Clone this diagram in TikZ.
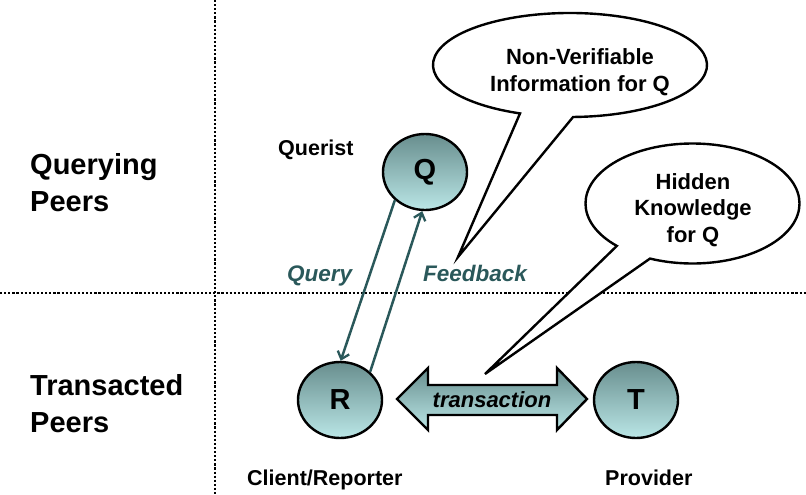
\documentclass[tikz,border=0pt]{standalone}
\usepackage{fontspec}
\setmainfont{Liberation Sans}
\usetikzlibrary{shapes.geometric,arrows.meta,calc}
\definecolor{tealdark}{RGB}{42,88,90}
\definecolor{shadetop}{RGB}{104,142,142}
\definecolor{shadebot}{RGB}{186,230,230}

\begin{document}
\begin{tikzpicture}[x=1pt,y=-1pt,
  peer/.style={ellipse, draw=black, line width=2.4pt, minimum width=84pt,
    minimum height=76pt, inner sep=0pt, top color=shadetop,
    bottom color=shadebot, font=\fontsize{29}{34}\selectfont\bfseries},
  rowlabel/.style={anchor=west, inner sep=0pt, align=left,
    font=\fontsize{29}{37}\selectfont\bfseries},
  rolelabel/.style={anchor=base west, inner sep=0pt,
    font=\fontsize{21.5}{26}\selectfont\bfseries},
  msglabel/.style={anchor=base west, inner sep=0pt, text=tealdark,
    font=\fontsize{22.5}{27}\selectfont\bfseries\itshape},
  msg/.style={draw=tealdark, line width=2.5pt,
    -{Straight Barb[length=7pt,width=12pt,line width=2.3pt]}},
  divider/.style={line width=2.6pt, dash pattern=on 2.2pt off 1.9pt},
  bubble/.style={draw=black, fill=white, line width=2.4pt, line join=miter},
  bubbletext/.style={align=center, inner sep=0pt,
    font=\fontsize{22}{26.5}\selectfont\bfseries},
  bigarrow/.style={draw=black, line width=2.4pt, line join=miter,
    top color=shadetop, bottom color=shadebot}
]
\useasboundingbox (0,0) rectangle (806,495);

% quadrant dividers
\coordinate (vtop) at (215,0);
\coordinate (vbot) at (215,495);
\coordinate (hleft) at (0,293);
\coordinate (hright) at (806,293);
\draw[divider] (vtop) -- (vbot);
\draw[divider] (hleft) -- (hright);

% row headings
\node[rowlabel] (qpeers) at (30,183) {Querying\\Peers};
\node[rowlabel] (tpeers) at (30,404) {Transacted\\Peers};

% peers
\node[peer] (Q) at (425,172) {Q};
\node[peer] (R) at (340,400) {R};
\node[peer] (T) at (636,400) {T};

% roles
\node[rolelabel] (querist) at (278,155) {Querist};
\node[rolelabel] (client) at (247,485) {Client/Reporter};
\node[rolelabel] (provider) at (605,485) {Provider};

% query / feedback messages
\draw[msg] (Q.223) -- (R.89);
\draw[msg] (R.43) -- (Q.266);
\node[msglabel] (query) at (287,281) {Query};
\node[msglabel] (feedback) at (423,281) {Feedback};

% transaction double arrow
\path[bigarrow] (397,399) -- (428,368) -- (428,385) -- (557,385) -- (557,368)
  -- (587,399) -- (557,430) -- (557,415) -- (428,415) -- (428,430) -- cycle;
\node[inner sep=0pt, font=\fontsize{22}{26}\selectfont\bfseries\itshape]
  (tx) at (492,400) {transaction};

% speech bubbles
\coordinate (nvc) at (570,65);
\coordinate (nvtip) at (458,257);
\draw[bubble] ($(nvc)+(111.4:137 and 52)$)
  arc[start angle=111.4, end angle=448.7, x radius=137, y radius=52]
  -- (nvtip) -- cycle;
\node[bubbletext] (nvtext) at (580,72) {Non-Verifiable\\Information for Q};

\coordinate (hkc) at (692.5,203.5);
\coordinate (hktip) at (485,374);
\draw[bubble] ($(hkc)+(135:107 and 60)$)
  arc[start angle=135, end angle=473.4, x radius=107, y radius=60]
  -- (hktip) -- cycle;
\node[bubbletext] (hktext) at (693,210) {Hidden\\Knowledge\\for Q};
\end{tikzpicture}
\end{document}
